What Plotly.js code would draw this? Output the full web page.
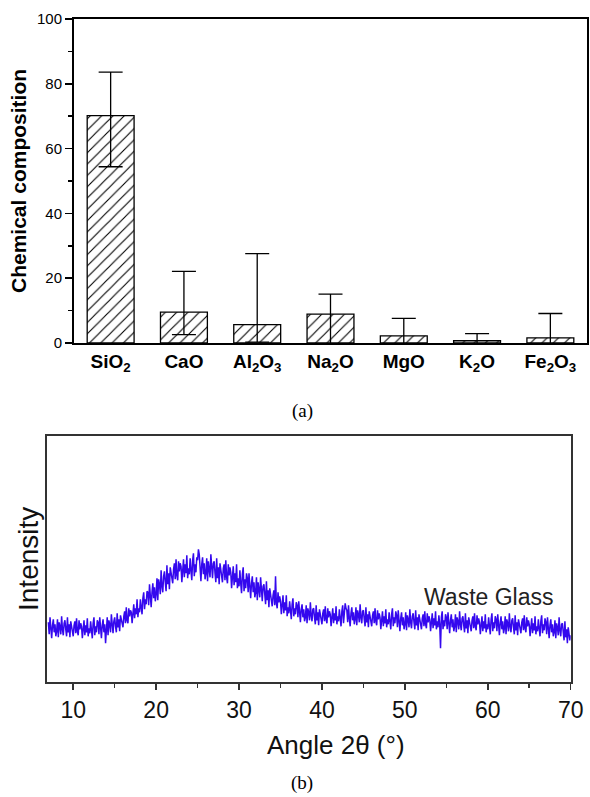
<!DOCTYPE html>
<html>
<head>
<meta charset="utf-8">
<script src="https://cdn.plot.ly/plotly-3.0.1.min.js"></script>
<style>html,body{margin:0;padding:0;background:#fff;}#chart{width:590px;height:797px;}</style>
</head>
<body>
<div id="chart"></div>
<script>
// ---- Panel (a): chemical composition ----
const oxides = ['SiO<sub>2</sub>', 'CaO', 'Al<sub>2</sub>O<sub>3</sub>', 'Na<sub>2</sub>O', 'MgO', 'K<sub>2</sub>O', 'Fe<sub>2</sub>O<sub>3</sub>'];
const composition = [70.2, 9.5, 5.7, 8.9, 2.2, 0.7, 1.6];
const errorPlus = [13.4, 12.6, 21.9, 6.2, 5.4, 2.2, 7.5];
const errorMinus = [15.8, 6.9, 5.4, 11.1, 4.7, 3.3, 4.2];

// ---- Panel (b): XRD pattern of waste glass (2θ from 7.0 to 70.0, step 0.1) ----
const angleStart = 7.0;
const angleStep = 0.1;
const xrdIntensity = [
60,48,65,52,44,57,63,50,58,46,
51,63,45,60,56,48,66,53,47,59,
62,53,46,65,50,58,45,61,56,49,
46,57,61,49,64,51,47,62,53,59,
56,44,59,62,47,57,50,64,46,54,
49,61,52,44,59,65,47,56,50,62,
60,48,65,52,44,57,63,50,58,39,
53,65,47,62,58,50,68,55,49,61,
65,56,50,69,55,63,51,67,63,56,
55,66,71,59,75,62,59,74,66,72,
70,59,74,78,64,74,68,83,65,74,
70,83,75,68,84,90,73,83,78,91,
90,77,98,83,75,90,99,84,95,81,
88,104,82,103,98,88,112,96,90,106,
111,100,91,117,98,109,93,115,108,100,
99,113,119,103,123,107,102,121,111,119,
116,100,120,123,105,118,109,127,104,114,
108,124,112,102,122,129,106,118,110,125,
122,133,128,111,101,118,125,108,119,103,
109,124,101,121,115,105,128,111,104,119,
121,109,100,124,104,115,98,119,111,102,
100,114,118,102,122,105,99,118,107,115,
110,94,113,116,97,109,100,118,94,104,
96,112,99,89,108,115,91,103,94,109,
104,90,109,93,84,99,106,90,100,85,
90,105,82,100,94,85,105,90,81,96,
98,88,78,101,82,92,75,94,87,79,
76,87,92,77,106,79,74,90,80,86,
81,68,84,87,69,80,72,87,66,75,
69,81,72,63,78,84,66,74,68,80,
77,65,81,68,60,73,78,65,73,61,
65,77,59,74,70,62,80,67,61,73,
74,65,58,77,62,70,57,73,68,61,
58,69,73,61,76,63,59,74,65,71,
68,56,71,74,59,69,62,76,58,66,
61,73,64,56,71,77,59,68,79,74,
72,60,77,64,56,69,75,62,70,58,
63,75,57,72,68,60,78,65,59,71,
72,63,56,75,60,68,55,71,66,59,
56,67,71,59,74,61,57,72,63,69,
65,53,68,71,56,66,59,73,55,63,
58,70,61,53,68,74,56,65,59,71,
67,55,72,59,51,64,70,57,65,53,
58,70,52,67,63,55,73,60,54,66,
69,60,53,72,57,65,52,68,63,56,
53,64,68,56,71,58,54,69,60,66,
63,51,66,69,54,64,57,71,53,61,
55,67,58,34,65,71,53,62,56,68,
65,53,70,57,49,62,68,55,63,51,
56,68,50,65,61,53,71,58,52,64,
66,57,50,69,54,62,49,65,60,53,
51,62,66,54,69,56,52,67,58,64,
60,48,63,66,51,61,54,68,50,58,
53,65,56,48,63,69,51,60,54,66,
63,51,68,55,47,60,66,53,61,49,
54,66,48,63,59,51,69,56,50,62,
64,55,48,67,52,60,47,63,58,51,
49,60,64,52,67,54,50,65,56,62,
58,46,61,64,49,59,52,66,48,56,
51,63,54,46,61,67,49,58,52,64,
60,48,65,52,44,57,63,50,58,46,
50,62,44,59,55,47,65,52,46,58,
59,50,42,61,45,53,39,55,49,42,
47
];
const angleTicks = [10, 20, 30, 40, 50, 60, 70];

const W = 590, H = 797;
const px = v => v / W;
const py = v => 1 - v / H;
const sans = 'Arial, "Liberation Sans", Helvetica, sans-serif';
const serif = '"Times New Roman", "Liberation Serif", serif';

const barTrace = {
  type: 'bar',
  x: oxides,
  y: composition,
  xaxis: 'x', yaxis: 'y',
  marker: {
    color: 'white',
    line: {color: 'black', width: 1.3},
    pattern: {shape: '/', fgcolor: 'black', bgcolor: 'white', size: 8, solidity: 0.14}
  },
  error_y: {
    type: 'data', symmetric: false,
    array: errorPlus, arrayminus: errorMinus,
    color: 'black', thickness: 1.3, width: 12
  },
  hoverinfo: 'skip'
};

const xrdTrace = {
  type: 'scatter', mode: 'lines',
  x0: angleStart, dx: angleStep,
  y: xrdIntensity,
  xaxis: 'x2', yaxis: 'y2',
  line: {color: 'rgb(52,8,238)', width: 1.5},
  hoverinfo: 'skip'
};

const layout = {
  width: W, height: H,
  margin: {l: 0, r: 0, t: 0, b: 0},
  paper_bgcolor: 'white', plot_bgcolor: 'white',
  showlegend: false,
  bargap: 0.36,
  font: {family: sans, color: 'black'},
  xaxis: {
    domain: [px(74), px(587)], anchor: 'y',
    type: 'category', range: [-0.5, 6.5],
    showline: true, mirror: true, linecolor: 'black', linewidth: 2,
    ticks: '', showgrid: false, zeroline: false,
    tickfont: {size: 19, weight: 700, family: sans, color: 'black'}
  },
  yaxis: {
    domain: [py(343), py(19)], anchor: 'x',
    range: [0, 100], dtick: 20, tick0: 0,
    ticks: 'outside', ticklen: 7, tickwidth: 1.5, tickcolor: 'black',
    minor: {dtick: 10, ticks: 'outside', ticklen: 4, tickwidth: 1.5, tickcolor: 'black'},
    showline: true, mirror: true, linecolor: 'black', linewidth: 2,
    showgrid: false, zeroline: false,
    tickfont: {size: 15, family: sans, color: 'black'}
  },
  xaxis2: {
    domain: [px(46.7), px(570.7)], anchor: 'y2',
    range: [6.8, 70], tickvals: angleTicks,
    ticks: 'outside', ticklen: 6, tickwidth: 1.5, tickcolor: '#333',
    minor: {dtick: 5, ticks: 'outside', ticklen: 4, tickwidth: 1.5, tickcolor: '#333'},
    showline: true, mirror: true, linecolor: '#333', linewidth: 2,
    showgrid: false, zeroline: false,
    tickfont: {size: 23, family: sans, color: '#111'}
  },
  yaxis2: {
    domain: [py(682.3), py(436)], anchor: 'x2',
    range: [0, 246.3],
    showticklabels: false, ticks: '',
    showline: true, mirror: true, linecolor: '#333', linewidth: 2,
    showgrid: false, zeroline: false
  },
  annotations: [
    {text: '<b>Chemical composition</b>', xref: 'paper', yref: 'paper', x: px(18), y: py(181),
     textangle: -90, showarrow: false, xanchor: 'center', yanchor: 'middle',
     font: {size: 21, family: sans, color: 'black'}},
    {text: '(a)', xref: 'paper', yref: 'paper', x: px(302), y: py(411),
     showarrow: false, xanchor: 'center', yanchor: 'middle',
     font: {size: 19, family: serif, color: 'black'}},
    {text: 'Intensity', xref: 'paper', yref: 'paper', x: px(28), y: py(559),
     textangle: -90, showarrow: false, xanchor: 'center', yanchor: 'middle',
     font: {size: 28, family: sans, color: '#111'}},
    {text: 'Waste Glass', xref: 'paper', yref: 'paper', x: px(489), y: py(597),
     showarrow: false, xanchor: 'center', yanchor: 'middle',
     font: {size: 23, family: sans, color: '#222'}},
    {text: 'Angle 2θ (°)', xref: 'paper', yref: 'paper', x: px(336), y: py(745),
     showarrow: false, xanchor: 'center', yanchor: 'middle',
     font: {size: 26, family: sans, color: '#111'}},
    {text: '(b)', xref: 'paper', yref: 'paper', x: px(302), y: py(783),
     showarrow: false, xanchor: 'center', yanchor: 'middle',
     font: {size: 19, family: serif, color: 'black'}}
  ]
};

Plotly.newPlot('chart', [barTrace, xrdTrace], layout, {staticPlot: true, displayModeBar: false});
</script>
</body>
</html>
